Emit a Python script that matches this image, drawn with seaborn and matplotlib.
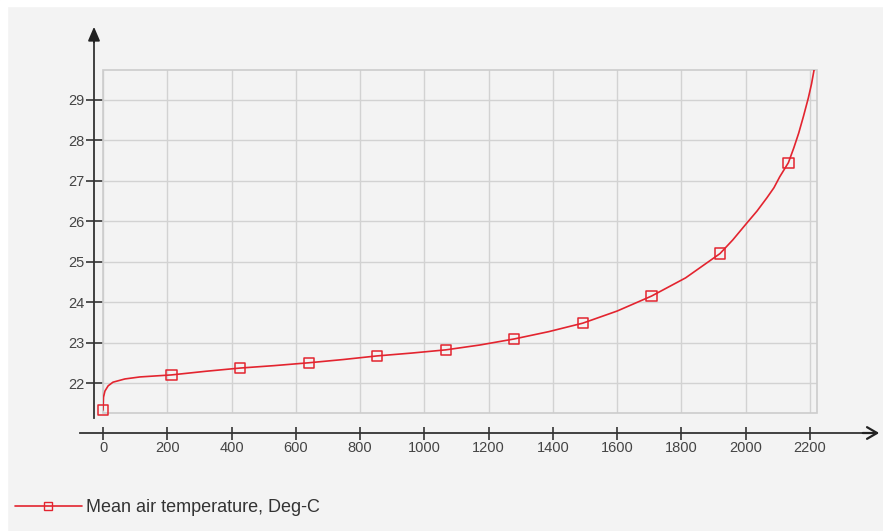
import matplotlib
matplotlib.use('Agg')
import matplotlib.pyplot as plt
import seaborn as sns
from matplotlib.lines import Line2D
from matplotlib.patches import Rectangle

# curve
line_x = [0, 1.5, 6, 16, 31, 68, 115, 213, 320, 427, 533, 640, 747, 853, 960, 1067, 1173,
          1280, 1387, 1493, 1600, 1707, 1813, 1920, 1960, 2004, 2035, 2066, 2088, 2106, 2133,
          2150, 2165, 2180, 2195, 2205, 2213]
line_y = [21.33, 21.65, 21.8, 21.93, 22.02, 22.1, 22.15, 22.2, 22.29, 22.37, 22.43, 22.5, 22.58, 22.67, 22.74, 22.82, 22.94,
          23.09, 23.27, 23.48, 23.78, 24.15, 24.6, 25.2, 25.54, 25.96, 26.25, 26.58, 26.83, 27.1, 27.45,
          27.82, 28.18, 28.6, 29.05, 29.4, 29.75]

# square markers
mark_x = [0, 213, 427, 640, 853, 1067, 1280, 1493, 1707, 1920, 2133]
mark_y = [21.33, 22.2, 22.37, 22.5, 22.67, 22.82, 23.09, 23.48, 24.15, 25.2, 27.45]

x_ticks = list(range(0, 2201, 200))
y_ticks = list(range(22, 30))
label = 'Mean air temperature, Deg-C'

sns.set_theme(style='white')
plt.rcParams['font.family'] = ['Liberation Sans', 'DejaVu Sans']

W, H = 883, 531
PT = 0.72  # points per pixel at dpi 100
fig = plt.figure(figsize=(W / 100, H / 100), dpi=100, facecolor='#f3f3f3')
ax = fig.add_axes([103 / W, (H - 413) / H, 714 / W, 343 / H])
ax.set_facecolor('#f3f3f3')

red = '#e3242f'
sns.lineplot(x=line_x, y=line_y, ax=ax, color=red, linewidth=1.2, sort=False, estimator=None, zorder=3)
sns.scatterplot(x=mark_x, y=mark_y, ax=ax, marker='s', s=55, facecolor='none',
                edgecolor=red, linewidth=1.1, zorder=4, clip_on=False)

ax.set_xlim(0, 2222)
ax.set_ylim(21.258, 29.742)
ax.set_xticks(x_ticks)
ax.set_yticks(y_ticks)
ax.grid(True, color='#d2d2d2', linewidth=1.0)
ax.set_axisbelow(True)

# light box round the plot area
ax.add_patch(Rectangle((0, 0), 1, 1, transform=ax.transAxes, fill=False,
                       edgecolor='#cccccc', linewidth=1.2, clip_on=False, zorder=1))

ax.spines['top'].set_visible(False)
ax.spines['right'].set_visible(False)
ax.spines['left'].set_position(('outward', 9 * PT))
ax.spines['bottom'].set_position(('outward', 20 * PT))
for s in ['left', 'bottom']:
    ax.spines[s].set_color('#333333')
    ax.spines[s].set_linewidth(1.3)
ax.spines['left'].set_bounds(21.13, 30.7)
ax.spines['bottom'].set_bounds(-72, 2400)

ax.tick_params(axis='x', bottom=True, direction='inout', length=13 * PT, width=1.2, color='#333333',
               labelsize=10.5, labelcolor='#444444', pad=1)
ax.tick_params(axis='y', left=True, direction='inout', length=17 * PT, width=1.2, color='#333333',
               labelsize=10.5, labelcolor='#444444', pad=1)
ax.set_xlabel('')
ax.set_ylabel('')

# arrow heads on the axis lines
ax.annotate('', xy=(94, H - 24), xytext=(94, H - 45), xycoords='figure pixels',
            textcoords='figure pixels',
            arrowprops=dict(arrowstyle='-|>,head_length=0.7,head_width=0.3', color='#222222', lw=1.3))
ax.annotate('', xy=(882, H - 433), xytext=(860, H - 433), xycoords='figure pixels',
            textcoords='figure pixels',
            arrowprops=dict(arrowstyle='->,head_length=0.6,head_width=0.35', color='#222222', lw=1.6))

# white strips from the crop
fig.add_artist(Rectangle((0, 1 - 6 / H), 1, 6 / H, transform=fig.transFigure, color='white', zorder=0))
fig.add_artist(Rectangle((0, 0), 7 / W, 1, transform=fig.transFigure, color='white', zorder=0))

handle = Line2D([], [], color=red, linewidth=1.2, marker='s', markersize=6,
                markerfacecolor='none', markeredgecolor=red)
fig.legend([handle], [label], loc='center left', bbox_to_anchor=(15 / W, (H - 508) / H),
           frameon=False, fontsize=13, handlelength=3.7, handletextpad=0.25,
           labelcolor='#333333', borderaxespad=0, borderpad=0)

fig.savefig('out.png', dpi=100, facecolor=fig.get_facecolor())
